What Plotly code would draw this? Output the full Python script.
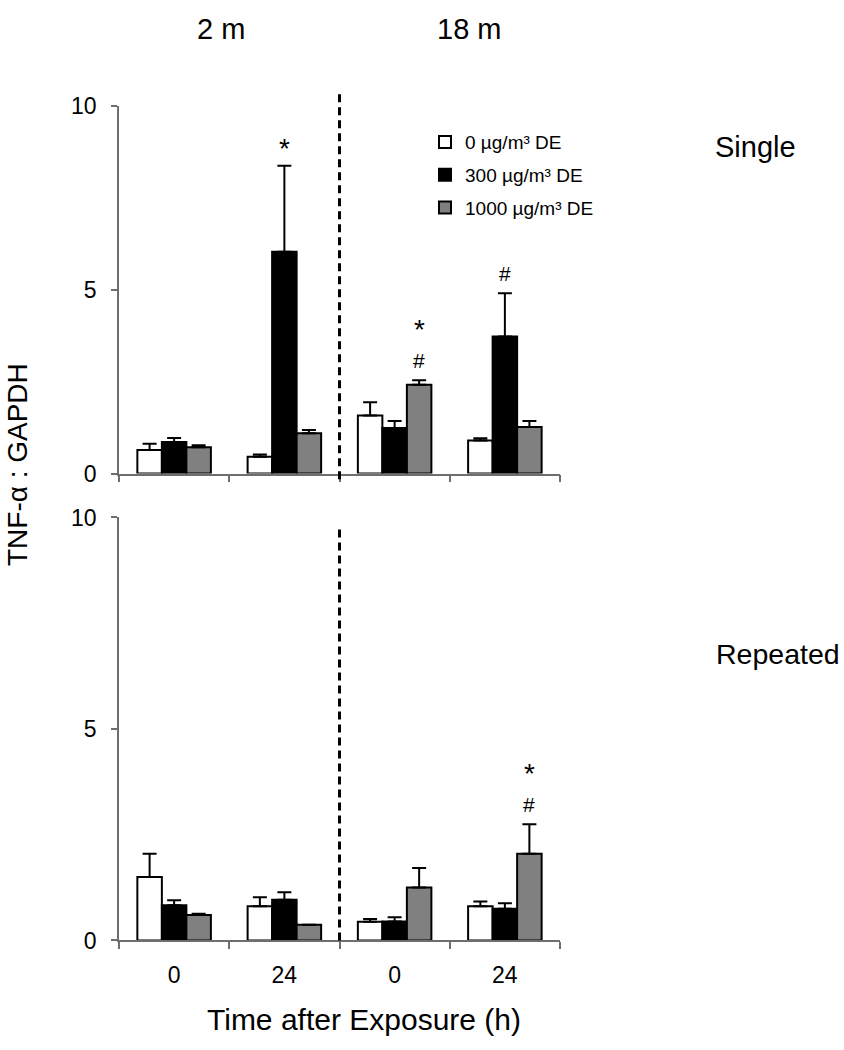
import plotly.graph_objects as go

# ---------------- data ----------------
time_labels = ["0", "24", "0", "24"]          # time after exposure (h); first two = 2 m, last two = 18 m
age_labels = ["2 m", "18 m"]
series_names = ["0 µg/m³ DE", "300 µg/m³ DE", "1000 µg/m³ DE"]
series_colors = ["#ffffff", "#000000", "#808080"]

single_0 = [0.64, 0.46, 1.58, 0.90]
single_0_err = [0.17, 0.06, 0.36, 0.06]
single_300 = [0.86, 6.04, 1.24, 3.73]
single_300_err = [0.11, 2.34, 0.19, 1.18]
single_1000 = [0.72, 1.10, 2.42, 1.27]
single_1000_err = [0.05, 0.09, 0.12, 0.16]

repeated_0 = [1.50, 0.81, 0.44, 0.81]
repeated_0_err = [0.55, 0.21, 0.07, 0.11]
repeated_300 = [0.83, 0.96, 0.45, 0.75]
repeated_300_err = [0.12, 0.18, 0.10, 0.13]
repeated_1000 = [0.60, 0.37, 1.25, 2.05]
repeated_1000_err = [0.03, 0.00, 0.46, 0.70]

# significance marks: (panel, time group index, series index, text)
sig_marks = [
    ("single", 1, 1, "*"),
    ("single", 2, 2, "#"),
    ("single", 2, 2, "*"),
    ("single", 3, 1, "#"),
    ("repeated", 3, 2, "#"),
    ("repeated", 3, 2, "*"),
]

FONT = "Liberation Sans, Arial, sans-serif"
W, H = 844, 1050

def px_x(v):
    return v / W

def px_y(v):
    return 1 - v / H

x_pos = list(range(len(time_labels)))
panels = {
    "single": ([single_0, single_300, single_1000],
               [single_0_err, single_300_err, single_1000_err], "x", "y"),
    "repeated": ([repeated_0, repeated_300, repeated_1000],
                 [repeated_0_err, repeated_300_err, repeated_1000_err], "x2", "y2"),
}

fig = go.Figure()
for pname, (vals, errs, xa, ya) in panels.items():
    for i, (v, e) in enumerate(zip(vals, errs)):
        fig.add_trace(go.Bar(
            x=x_pos, y=v, name=series_names[i], xaxis=xa, yaxis=ya,
            marker=dict(color=series_colors[i], line=dict(color="#000000", width=2)),
            error_y=dict(type="data", array=e, arrayminus=[0] * len(e), symmetric=False,
                         color="#000000", thickness=2, width=7),
            legendgroup=series_names[i], showlegend=(pname == "single"),
        ))

BARGAP = 0.333
n_series = 3
bar_w = (1 - BARGAP) / n_series

annotations = []
has_hash = {(p, g, s) for p, g, s, t in sig_marks if t == "#"}
for pname, g, s, txt in sig_marks:
    vals, errs, xa, ya = panels[pname]
    top = vals[s][g] + errs[s][g]
    common = dict(x=g + (s - 1) * bar_w, y=top, xref=xa, yref=ya, text=txt, showarrow=False)
    if txt == "#":
        annotations.append(dict(**common, yanchor="middle", yshift=20,
                                font=dict(size=21, color="#000000", family=FONT)))
    elif (pname, g, s) in has_hash:
        annotations.append(dict(**common, yanchor="bottom", yshift=33,
                                font=dict(size=28, color="#000000", family=FONT)))
    else:
        annotations.append(dict(**common, yanchor="middle", yshift=17,
                                font=dict(size=28, color="#000000", family=FONT)))

# panel / group labels
annotations += [
    dict(x=px_x(221), y=px_y(16), xref="paper", yref="paper", text=age_labels[0],
         showarrow=False, xanchor="center", yanchor="middle", font=dict(size=29, family=FONT, color="#000")),
    dict(x=px_x(469), y=px_y(16), xref="paper", yref="paper", text=age_labels[1],
         showarrow=False, xanchor="center", yanchor="middle", font=dict(size=29, family=FONT, color="#000")),
    dict(x=px_x(713), y=px_y(137), xref="paper", yref="paper", text="Single",
         showarrow=False, xanchor="left", yanchor="middle", font=dict(size=29, family=FONT, color="#000")),
    dict(x=px_x(714), y=px_y(657), xref="paper", yref="paper", text="Repeated",
         showarrow=False, xanchor="left", yanchor="middle", font=dict(size=28.5, family=FONT, color="#000")),
    dict(x=px_x(17.5), y=px_y(463), xref="paper", yref="paper", text="TNF-α : GAPDH",
         textangle=-90, showarrow=False, xanchor="center", yanchor="middle",
         font=dict(size=28, family=FONT, color="#000")),
    dict(x=px_x(364), y=px_y(1032), xref="paper", yref="paper", text="Time after Exposure (h)",
         showarrow=False, xanchor="center", yanchor="middle", font=dict(size=30, family=FONT, color="#000")),
]

dom_x = [px_x(119), px_x(560)]
top_dom = [px_y(472.3), px_y(95.7)]
bot_dom = [px_y(951), px_y(517.3)]

axis_color = "#6e6e6e"
xcommon = dict(range=[-0.5, len(time_labels) - 0.5], showgrid=False, zeroline=False,
               showline=True, linecolor=axis_color, linewidth=1.5, ticks="",
               minor=dict(tickmode="array",
                          tickvals=[i - 0.5 for i in range(len(time_labels) + 1)],
                          ticks="outside", ticklen=7, tickwidth=1.5, tickcolor=axis_color),
               domain=dom_x, fixedrange=True)
ycommon = dict(range=[0, 10], tickvals=[0, 5, 10], showgrid=False, zeroline=False,
               showline=True, linecolor=axis_color, linewidth=1.5, ticks="outside",
               ticklen=6, tickwidth=1.5, tickcolor=axis_color, fixedrange=True,
               tickfont=dict(size=23, family=FONT, color="#000"), ticklabelstandoff=10)

fig.update_layout(
    width=W, height=H, margin=dict(l=0, r=0, t=0, b=0),
    paper_bgcolor="#ffffff", plot_bgcolor="#ffffff",
    barmode="group", bargap=BARGAP, bargroupgap=0,
    font=dict(family=FONT, color="#000"),
    hovermode=False,
    xaxis=dict(**xcommon, anchor="y", showticklabels=False),
    yaxis=dict(**ycommon, domain=top_dom, anchor="x"),
    xaxis2=dict(**xcommon, anchor="y2", tickmode="array", tickvals=x_pos, ticktext=time_labels,
                tickfont=dict(size=23, family=FONT, color="#000"), ticklabelstandoff=13),
    yaxis2=dict(**ycommon, domain=bot_dom, anchor="x2"),
    legend=dict(x=px_x(425), y=px_y(113), xanchor="left", yanchor="top",
                font=dict(size=19, family=FONT, color="#000"), traceorder="grouped",
                tracegroupgap=5, bgcolor="rgba(0,0,0,0)"),
    annotations=annotations,
    shapes=[
        dict(type="line", xref="x", yref="paper", x0=1.5, x1=1.5, y0=px_y(478), y1=px_y(83),
             line=dict(color="#000", width=3, dash="8px,5px")),
        dict(type="line", xref="x2", yref="paper", x0=1.5, x1=1.5, y0=px_y(951), y1=px_y(525),
             line=dict(color="#000", width=3, dash="8px,5px")),
    ],
)

# remove the browser's default 8px page margin so the figure fills the window exactly
fig.write_html("out.html", config={"displayModeBar": False, "staticPlot": False},
               post_script="document.body.style.margin='0px';")
